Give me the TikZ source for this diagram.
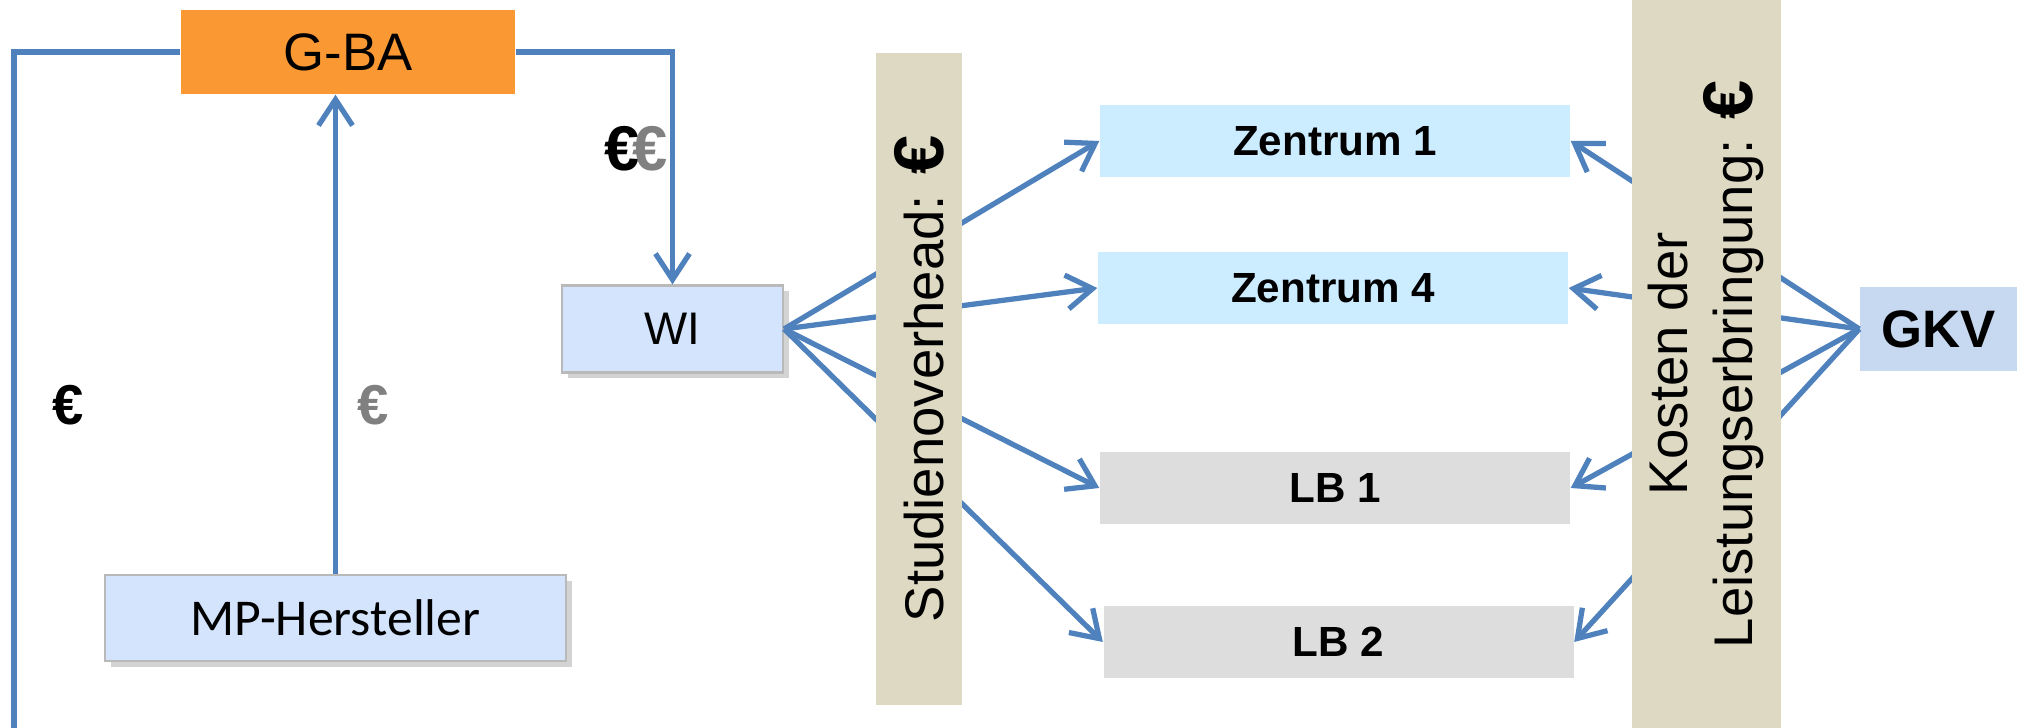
\documentclass[tikz,border=0pt]{standalone}
\usepackage{fontspec}
\setmainfont{Liberation Sans}
\newfontfamily\carlito{Carlito}
\usetikzlibrary{positioning}
\usetikzlibrary{arrows.meta}
\usetikzlibrary{shadows}
\usepackage{xcolor}
\definecolor{flowblue}{RGB}{79,129,189}
\definecolor{gbaorange}{RGB}{250,153,52}
\definecolor{partyblue}{RGB}{211,228,252}
\definecolor{zentrumcyan}{RGB}{204,236,255}
\definecolor{lbgray}{RGB}{221,221,221}
\definecolor{bartan}{RGB}{221,217,195}
\definecolor{gkvblue}{RGB}{198,217,241}
\newcommand{\bigeuro}{\textbf{\fontsize{20}{20}\selectfont €}}

\begin{document}
\begin{tikzpicture}[>={Straight Barb[length=2.6mm,width=3.4mm]},
    flow/.style={draw=flowblue, line width=1.5pt},
    party/.style={rectangle, fill=partyblue, draw=gray!55, line width=0.6pt, inner sep=0pt,
      drop shadow={shadow xshift=1.6pt, shadow yshift=-1.6pt, opacity=0.35}},
    site/.style={rectangle, inner sep=0pt, minimum width=4.7cm, minimum height=0.72cm,
      font=\fontsize{12}{14}\selectfont\bfseries},
    costbar/.style={rectangle, fill=bartan, rotate=90, inner sep=0pt, align=center,
      font=\fontsize{15.5}{18.5}\selectfont},
    euro/.style={font=\fontsize{16}{18}\selectfont\bfseries}]
  \useasboundingbox (0,0) rectangle (20.17,7.28);
  % payers, study sites and money flows
  \node[rectangle, fill=gbaorange, minimum width=3.34cm, minimum height=0.84cm,
    font=\fontsize{15}{18}\selectfont] (gba) at (3.48,6.76) {G-BA};
  \node[party, minimum width=2.21cm, minimum height=0.87cm,
    font=\fontsize{13}{16}\selectfont] (wi) at (6.725,3.99) {WI};
  \node[party, minimum width=4.61cm, minimum height=0.86cm,
    font=\carlito\fontsize{14.7}{17}\selectfont] (mp) at (3.355,1.10) {MP-Hersteller};
  \node[site, fill=zentrumcyan] (z1) at (13.35,5.87) {Zentrum 1};
  \node[site, fill=zentrumcyan] (z4) at (13.33,4.40) {Zentrum 4};
  \node[site, fill=lbgray] (lb1) at (13.35,2.40) {LB 1};
  \node[site, fill=lbgray] (lb2) at (13.385,0.86) {LB 2};
  \node[rectangle, fill=gkvblue, minimum width=1.57cm, minimum height=0.84cm,
    font=\fontsize{15}{18}\selectfont\bfseries] (gkv) at (19.385,3.99) {GKV};

  \coordinate (corner) at (0.14,6.76);
  \coordinate (bottom) at (0.14,0);
  \draw[flow] (gba.west) -- (corner) -- (bottom);
  \draw[flow,->] (gba.east) -| (wi.north);
  \draw[flow,->] (mp.north) -- (mp.north |- gba.south);

  \foreach \s in {z1,z4,lb1,lb2} {
    \draw[flow,->] (wi.east) -- (\s.west);
    \draw[flow,->] (gkv.west) -- (\s.east);
  }

  \node[costbar, minimum width=6.52cm, minimum height=0.86cm] (overhead) at (9.19,3.49)
    {Studienoverhead: \bigeuro};
  \node[costbar, minimum width=7.28cm, minimum height=1.49cm] (kosten) at (17.06,3.64)
    {Kosten der\\Leistungserbringung: \bigeuro};

  \node[euro, font=\fontsize{18}{20}\selectfont\bfseries] (eurgba) at (6.36,5.79)
    {€\kern-2pt\textcolor{gray}{€}};
  \node[euro] (eurleft) at (0.68,3.23) {€};
  \node[euro, text=gray] (eurmp) at (3.73,3.23) {€};
\end{tikzpicture}
\end{document}
